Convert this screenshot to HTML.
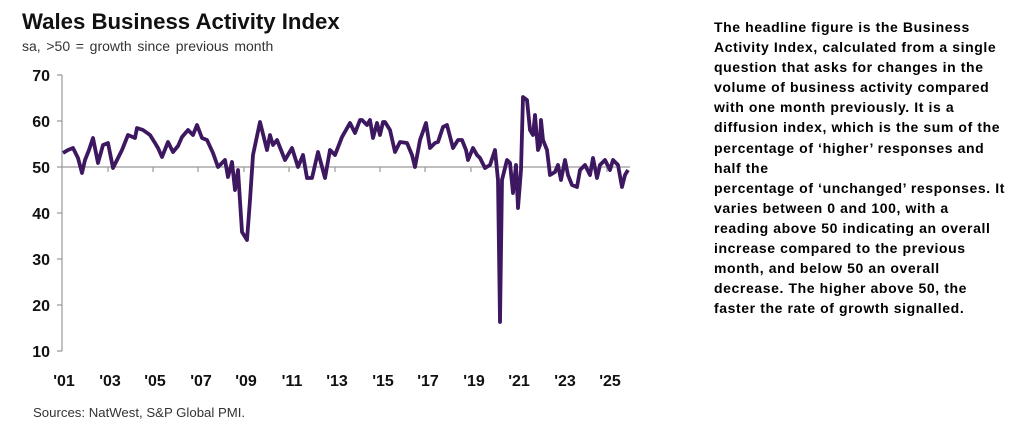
<!DOCTYPE html>
<html><head><meta charset="utf-8"><style>
body{margin:0;width:1024px;height:436px;background:#fff;overflow:hidden;font-family:"Liberation Sans",sans-serif}
.t{position:absolute;left:714px;font-weight:bold;font-size:14px;letter-spacing:0.6px;color:#000;white-space:nowrap;line-height:20.1px;top:17px}
</style></head><body>
<svg width="1024" height="436" style="position:absolute;left:0;top:0" font-family="Liberation Sans, sans-serif">
<text x="22" y="29" font-size="22.2" font-weight="bold" fill="#111">Wales Business Activity Index</text>
<text x="22" y="51" font-size="14" fill="#333" word-spacing="1.8">sa, &gt;50 = growth since previous month</text>
<g stroke="#999" stroke-width="1.2" fill="none">
<path d="M62,75V351"/>
<path d="M57,75H62M57,121H62M57,167H62M57,213H62M57,259H62M57,305H62M57,351H62"/>
<path d="M62,167H630"/>
<path d="M108,167v5M153,167v5M198,167v5M244,167v5M289,167v5M335,167v5M380,167v5M425,167v5M471,167v5M516,167v5M562,167v5M607,167v5"/>
</g>
<g font-size="16" font-weight="bold" fill="#111" text-anchor="end">
<text x="50" y="81">70</text><text x="50" y="127">60</text><text x="50" y="173">50</text><text x="50" y="219">40</text><text x="50" y="265">30</text><text x="50" y="311">20</text><text x="50" y="357">10</text>
</g>
<g font-size="16" font-weight="bold" fill="#111" text-anchor="middle">
<text x="64" y="386">'01</text><text x="110" y="386">'03</text><text x="155" y="386">'05</text><text x="201" y="386">'07</text><text x="246" y="386">'09</text><text x="292" y="386">'11</text><text x="337" y="386">'13</text><text x="383" y="386">'15</text><text x="428" y="386">'17</text><text x="474" y="386">'19</text><text x="519" y="386">'21</text><text x="565" y="386">'23</text><text x="610" y="386">'25</text>
</g>
<text x="33" y="417" font-size="13.2" fill="#333">Sources: NatWest, S&amp;P Global PMI.</text>
<polyline fill="none" stroke="#3d1860" stroke-width="3.8" stroke-linejoin="round" points="63,153 68,150 73,148 78,158 82,173 85,160 89,150 93,138 98,163 103,145 108,143 113,168 118,158 122,150 128,135 135,138 137,128 143,130 150,135 155,143 158,148 162,157 168,142 173,152 178,146 182,137 188,130 193,135 197,125 202,138 207,140 213,153 218,167 225,160 228,177 232,162 235,190 238,170 242,232 247,240 250,200 253,155 260,122 267,150 270,135 273,145 277,140 281,150 285,160 292,148 298,167 303,155 307,178 312,178 318,152 325,178 330,150 335,155 342,137 350,123 355,133 360,120 362,120 367,125 370,120 373,138 377,123 380,135 383,122 385,122 390,130 395,152 400,142 407,143 412,155 415,167 420,140 426,123 430,148 435,143 438,142 443,127 447,125 453,148 458,140 462,140 466,150 468,160 473,148 477,155 480,158 485,168 490,165 495,150 498,180 500,322 502,180 507,160 510,163 513,193 516,165 518,208 521,170 523,97 527,100 530,130 533,135 535,115 538,150 540,145 541,120 543,140 547,150 550,175 555,172 558,165 561,180 565,160 568,175 572,185 577,187 580,170 585,165 590,175 593,158 597,178 600,165 605,160 610,170 613,160 618,165 622,187 625,175 628,170"/>
</svg>
<div class="t">The headline figure is the Business<br>Activity Index, calculated from a single<br>question that asks for changes in the<br>volume of business activity compared<br>with one month previously. It is a<br>diffusion index, which is the sum of the<br>percentage of ‘higher’ responses and<br>half the<br>percentage of ‘unchanged’ responses. It<br>varies between 0 and 100, with a<br>reading above 50 indicating an overall<br>increase compared to the previous<br>month, and below 50 an overall<br>decrease. The higher above 50, the<br>faster the rate of growth signalled.</div>
</body></html>
